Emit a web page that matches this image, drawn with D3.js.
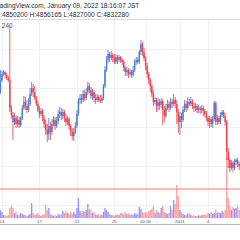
<!DOCTYPE html>
<html>
<head>
<meta charset="utf-8">
<script src="https://cdn.jsdelivr.net/npm/d3@7"></script>
<style>
  body { margin: 0; background: #fff; }
  svg { display: block; font-family: "Liberation Sans", Arial, sans-serif; }
</style>
</head>
<body>
<svg id="chart" width="240" height="240"></svg>
<script>
// 4h candles, BTCJPY (thousand JPY), Dec 12 2020 20:00 UTC onwards
const firstOpen = 3280;
const closes = [
  3400,3460,3480,3450,3420,3400,3120,3050,2980,3020,
  2960,3000,2950,3020,3120,3180,3140,3100,3160,3260,
  3320,3280,3220,3160,3100,3060,3090,3020,2960,2900,
  2860,2940,2880,2960,3000,2940,2990,3060,3080,3040,
  3080,3020,2980,3010,2940,2880,2840,2880,2940,3060,
  3200,3220,3200,3260,3220,3280,3340,3300,3240,3280,
  3220,3200,3230,3200,3190,3220,3340,3500,3600,3660,
  3620,3650,3620,3580,3630,3600,3630,3600,3580,3520,
  3480,3500,3460,3480,3450,3500,3580,3600,3580,3680,
  3760,3680,3620,3540,3460,3400,3340,3260,3180,3200,
  3140,3180,3150,3190,3100,3040,3120,3160,3120,3180,
  3160,3200,3160,3080,2980,3040,3000,3100,3160,3120,
  3180,3160,3190,3140,3120,3140,3100,3120,3100,3120,
  3090,3060,3020,2980,3010,2960,3010,3170,2980,3020,
  2980,3050,3080,3040,2980,2680,2600,2520,2570,2520,
  2580,2600,2560,2540
];
const highs = [
  3500,3490,3500,3490,3470,3440,3950,3150,3080,3070,
  3050,3040,3030,3040,3150,3240,3230,3200,3220,3320,
  3380,3360,3340,3240,3190,3140,3120,3110,3050,3000,
  2960,3020,2980,3010,3040,3030,3030,3100,3130,3120,
  3110,3100,3060,3040,3030,2960,2920,2920,2980,3100,
  3220,3260,3260,3300,3300,3320,3380,3370,3330,3310,
  3300,3260,3260,3250,3250,3250,3360,3540,3640,3700,
  3680,3690,3670,3660,3660,3650,3650,3640,3620,3600,
  3540,3530,3520,3510,3500,3540,3610,3630,3630,3700,
  3800,3780,3720,3640,3570,3480,3420,3360,3300,3230,
  3220,3220,3210,3220,3210,3140,3160,3200,3190,3220,
  3210,3260,3230,3200,3110,3080,3070,3140,3200,3190,
  3230,3210,3230,3210,3170,3170,3160,3150,3140,3150,
  3140,3110,3090,3040,3040,3030,3040,3190,3190,3050,
  3040,3080,3100,3100,3070,3000,2720,2620,2600,2590,
  2610,2620,2620,2580
];
const lows = [
  3260,3380,3440,3420,3400,3380,3080,3020,2800,2950,
  2920,2930,2920,2930,3000,3100,3100,3070,3080,3140,
  3240,3230,3200,3140,3080,3020,3040,2990,2920,2850,
  2780,2800,2800,2850,2940,2900,2920,2960,3020,3000,
  3010,2980,2940,2950,2900,2840,2800,2790,2860,2920,
  3040,3160,3160,3180,3190,3200,3250,3270,3210,3200,
  3180,3160,3180,3180,3170,3170,3200,3320,3480,3570,
  3580,3600,3580,3560,3560,3560,3580,3570,3550,3490,
  3440,3440,3420,3440,3420,3430,3480,3550,3560,3560,
  3650,3640,3590,3500,3420,3360,3280,3230,3140,3160,
  3080,3100,3100,3120,2950,2980,3020,3100,3080,3100,
  3120,3140,3120,2960,2870,2850,2920,2980,3080,3080,
  3100,3140,3140,3110,3080,3090,3070,3070,3060,3070,
  3040,3030,2990,2940,2920,2930,2920,2990,2950,2950,
  2960,2960,3030,3020,2940,2600,2520,2480,2500,2480,
  2500,2550,2530,2500
];
const volumes = [
  80,60,30,30,20,30,100,120,100,50,
  60,30,30,50,40,30,30,20,30,40,
  150,50,30,40,50,30,20,30,40,130,
  80,100,40,30,20,30,20,40,30,40,
  70,50,70,50,40,60,40,60,40,100,
  200,70,50,70,60,80,140,90,80,50,
  60,40,30,40,30,30,60,100,80,60,
  40,30,30,20,30,40,30,50,50,40,
  60,40,50,30,40,30,50,40,40,110,
  90,60,50,60,50,70,80,90,120,50,
  80,60,50,100,120,60,50,40,50,120,
  80,180,140,330,220,80,60,40,30,30,
  40,50,30,20,30,20,20,30,20,30,
  30,40,30,50,40,60,40,50,80,50,
  60,50,70,60,80,600,200,120,80,110,
  90,100,120,80
];
const gridPrices = [3710, 3320, 2930, 2540, 2150];
const lastPrice = 2310;
const tickDates = [
  Date.UTC(2020, 11, 13), Date.UTC(2020, 11, 17), Date.UTC(2020, 11, 21),
  Date.UTC(2020, 11, 25), Date.UTC(2020, 11, 28, 8), Date.UTC(2021, 0, 1),
  Date.UTC(2021, 0, 4)
];
const tickLabels = ["13", "17", "21", "25", "00:00", "2021", "4"];
const headerLines = [
  "TradingView.com, January 09, 2022 18:16:07 JST",
  "O:4850200 H:4856165 L:4827000 C:4832280"
];

const W = 240, H = 240;
const upColor = "#4d7ccf", downColor = "#f0404c";
const upVol = "rgba(110,110,245,0.72)", downVol = "rgba(250,100,100,0.62)";

const start = new Date(Date.UTC(2020, 11, 12, 20));
const candles = closes.map((c, i) => ({
  t: d3.utcHour.offset(start, 4 * i),
  o: i === 0 ? firstOpen : closes[i - 1],
  h: highs[i], l: lows[i], c: c, v: volumes[i]
}));

const svg = d3.select("#chart");

const x = d3.scaleUtc()
  .domain([new Date(tickDates[0]), new Date(tickDates[6])])
  .range([2, 208]);
const y = d3.scaleLinear().domain([1950, 4000]).range([225, 20]);
const yVol = d3.scaleLinear().domain([0, 600]).range([218, 158]);

// grid
const grid = svg.append("g").attr("stroke", "#edf0f5").attr("stroke-width", 1);
grid.selectAll("line.h")
  .data(gridPrices)
  .join("line")
  .attr("x1", 0).attr("x2", W)
  .attr("y1", d => Math.round(y(d)) + 0.5)
  .attr("y2", d => Math.round(y(d)) + 0.5);
grid.selectAll("line.v")
  .data(tickDates)
  .join("line")
  .attr("x1", d => Math.round(x(new Date(d))) + 0.5)
  .attr("x2", d => Math.round(x(new Date(d))) + 0.5)
  .attr("y1", 20).attr("y2", 218);

// header (cut at the left edge, as in the screenshot)
svg.append("line")
  .attr("x1", 0).attr("x2", W).attr("y1", 19.5).attr("y2", 19.5)
  .attr("stroke", "#d8dbe2");
svg.selectAll("text.hdr")
  .data(headerLines)
  .join("text")
  .attr("class", "hdr")
  .attr("x", (d, i) => i === 0 ? -6.5 : -5)
  .attr("y", (d, i) => 8 + i * 9)
  .attr("font-size", 6.6)
  .attr("fill", "#2a2e39")
  .text(d => d);
svg.append("text")
  .attr("x", 12.5).attr("y", 27.5)
  .attr("text-anchor", "end")
  .attr("font-size", 6.4)
  .attr("fill", "#50535e")
  .text("BTCJPY, 240");

// volume
const bw = 1.35;
svg.append("g").selectAll("rect")
  .data(candles)
  .join("rect")
  .attr("x", d => x(d.t) - bw / 2)
  .attr("width", bw)
  .attr("y", d => yVol(d.v))
  .attr("height", d => yVol(0) - yVol(d.v))
  .attr("fill", d => d.c >= d.o ? upVol : downVol);

// last price line
svg.append("line")
  .attr("x1", 0).attr("x2", W)
  .attr("y1", y(lastPrice)).attr("y2", y(lastPrice))
  .attr("stroke", "#f7777f").attr("stroke-width", 1);

// candles
const cg = svg.append("g");
cg.selectAll("line")
  .data(candles)
  .join("line")
  .attr("x1", d => x(d.t)).attr("x2", d => x(d.t))
  .attr("y1", d => y(Math.max(d.h, d.o, d.c)))
  .attr("y2", d => y(Math.min(d.l, d.o, d.c)))
  .attr("stroke", d => d.c >= d.o ? upColor : downColor)
  .attr("stroke-width", 0.85);
cg.selectAll("rect")
  .data(candles)
  .join("rect")
  .attr("x", d => x(d.t) - 0.7)
  .attr("width", 1.4)
  .attr("y", d => y(Math.max(d.o, d.c)))
  .attr("height", d => Math.max(0.7, Math.abs(y(d.o) - y(d.c))))
  .attr("fill", d => d.c >= d.o ? upColor : downColor);

// time axis
svg.append("line")
  .attr("x1", 0).attr("x2", W).attr("y1", 224.5).attr("y2", 224.5)
  .attr("stroke", "#b8bbc4");
svg.selectAll("text.tick")
  .data(tickDates)
  .join("text")
  .attr("class", "tick")
  .attr("x", d => x(new Date(d)))
  .attr("y", 222.5)
  .attr("text-anchor", "middle")
  .attr("font-size", 4.4)
  .attr("fill", "#50535e")
  .text((d, i) => tickLabels[i]);
</script>
</body>
</html>
